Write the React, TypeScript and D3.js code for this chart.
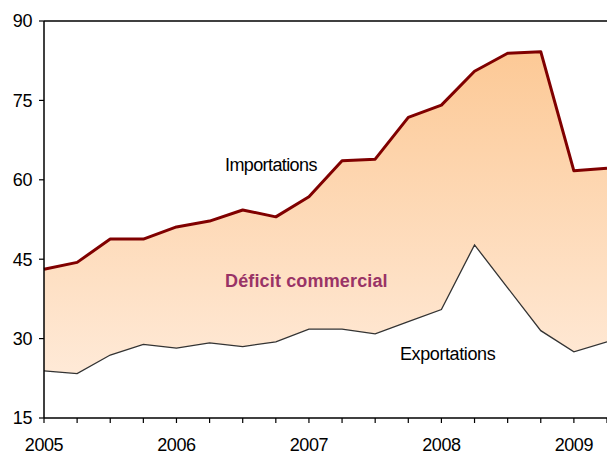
import React from "react";
import * as d3 from "d3";

const quarters = [
  2005, 2005.25, 2005.5, 2005.75, 2006, 2006.25, 2006.5, 2006.75,
  2007, 2007.25, 2007.5, 2007.75, 2008, 2008.25, 2008.5, 2008.75, 2009, 2009.25,
];
const importations = [
  43.1, 44.4, 48.8, 48.8, 51.1, 52.2, 54.3, 53.0,
  56.8, 63.6, 63.9, 71.8, 74.1, 80.5, 83.9, 84.2, 61.7, 62.2,
];
const exportations = [
  23.9, 23.4, 26.9, 28.9, 28.2, 29.2, 28.5, 29.4,
  31.8, 31.8, 30.9, 33.2, 35.5, 47.7, 39.6, 31.5, 27.5, 29.4,
];
const yTicks = [15, 30, 45, 60, 75, 90];
const yearTicks = [2005, 2006, 2007, 2008, 2009];

export default function App() {
  const W = 607, H = 455;
  const x = d3.scaleLinear().domain([2005, 2009.25]).range([44, 607]);
  const y = d3.scaleLinear().domain([15, 90]).range([418, 21]);
  const idx = quarters.map((_, i) => i);
  const area = d3
    .area<number>()
    .x((i) => x(quarters[i]))
    .y0((i) => y(exportations[i]))
    .y1((i) => y(importations[i]));
  const lineImp = d3.line<number>().x((i) => x(quarters[i])).y((i) => y(importations[i]));
  const lineExp = d3.line<number>().x((i) => x(quarters[i])).y((i) => y(exportations[i]));
  const font = "Arial, 'Liberation Sans', sans-serif";
  const minorTicks = d3.range(2005, 2009.26, 0.25);

  return (
    <svg
      width={W}
      height={H}
      style={{ position: "absolute", left: 0, top: 0, background: "#fff" }}
      fontFamily={font}
    >
      <defs>
        <linearGradient id="fillg" gradientUnits="userSpaceOnUse" x1="0" y1={y(90)} x2="0" y2={y(15)}>
          <stop offset="0" stopColor="#FCC690" />
          <stop offset="1" stopColor="#FFEEE0" />
        </linearGradient>
      </defs>
      <path d={area(idx) || ""} fill="url(#fillg)" />
      <path d={lineExp(idx) || ""} fill="none" stroke="#333" strokeWidth={1.3} />
      <path d={lineImp(idx) || ""} fill="none" stroke="#800000" strokeWidth={3} strokeLinejoin="round" />
      <line x1={44} x2={607} y1={y(90)} y2={y(90)} stroke="#000" strokeWidth={1.5} />
      <line x1={44} x2={44} y1={y(90)} y2={y(15)} stroke="#000" strokeWidth={1.5} />
      {yTicks.map((t) => (
        <g key={t}>
          <line x1={39} x2={44} y1={y(t)} y2={y(t)} stroke="#000" strokeWidth={1.2} />
          <text x={32} y={y(t)} dy="0.36em" textAnchor="end" fontSize={18} fill="#000" letterSpacing={-0.4}>
            {t}
          </text>
        </g>
      ))}
      <line x1={44} x2={607} y1={y(15)} y2={y(15)} stroke="#000" strokeWidth={1.5} />
      {minorTicks.map((t) => (
        <line key={t} x1={x(t)} x2={x(t)} y1={y(15)} y2={y(15) + 5} stroke="#000" strokeWidth={1.2} />
      ))}
      {yearTicks.map((t) => (
        <text key={t} x={x(t)} y={451} textAnchor="middle" fontSize={18} fill="#000" letterSpacing={-0.4}>
          {t}
        </text>
      ))}
      <text x={225} y={171} fontSize={18} fill="#000" letterSpacing={-0.6}>
        Importations
      </text>
      <text x={225} y={287} fontSize={18} fontWeight="bold" fill="#993366" letterSpacing={0.15}>
        Déficit commercial
      </text>
      <text x={400} y={360} fontSize={18} fill="#000" letterSpacing={-0.4}>
        Exportations
      </text>
    </svg>
  );
}
